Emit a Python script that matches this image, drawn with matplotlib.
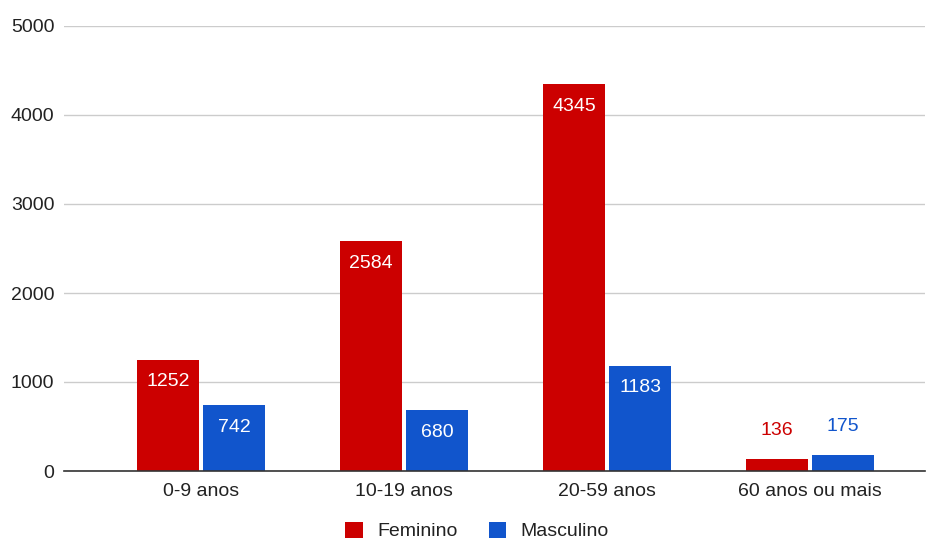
import matplotlib
matplotlib.use("Agg")
import matplotlib.pyplot as plt
import numpy as np

plt.rcParams['font.family'] = ['Liberation Sans', 'DejaVu Sans']

categories = ["0-9 anos", "10-19 anos", "20-59 anos", "60 anos ou mais"]
feminino = [1252, 2584, 4345, 136]
masculino = [742, 680, 1183, 175]
series_names = ["Feminino", "Masculino"]
colors = ["#CC0000", "#1155CC"]
yticks = [0, 1000, 2000, 3000, 4000, 5000]

FS = 14

fig = plt.figure(figsize=(9.36, 5.4), dpi=100)
ax = fig.add_axes([64/936, 1-471/540, (925-64)/936, (471-26)/540])

x = np.arange(len(categories))
w = 0.306
off = 0.163
for vals, sign, col, name in [(feminino, -1, colors[0], series_names[0]),
                              (masculino, 1, colors[1], series_names[1])]:
    bars = ax.bar(x + sign*off, vals, width=w, color=col, label=name, zorder=3)
    for b, v in zip(bars, vals):
        cx = b.get_x() + b.get_width()/2
        if v > 400:
            ax.annotate(str(v), (cx, v), xytext=(0, -16), textcoords="offset points",
                        ha="center", va="center", color="white", fontsize=FS, zorder=4)
        else:
            ax.annotate(str(v), (cx, v), xytext=(0, 20.5), textcoords="offset points",
                        ha="center", va="center", color=col, fontsize=FS, zorder=4)

ax.set_xlim(-0.675, 3.566)
ax.set_ylim(0, 5000)
ax.set_yticks(yticks)
ax.set_yticklabels([str(t) for t in yticks], fontsize=FS, color="#222222")
ax.set_xticks(x)
ax.set_xticklabels(categories, fontsize=FS, color="#222222")
ax.tick_params(axis="both", length=0)
ax.tick_params(axis="y", pad=7)
ax.tick_params(axis="x", pad=9)
ax.grid(axis="y", color="#CCCCCC", linewidth=1, zorder=0)
for s in ["top", "right", "left"]:
    ax.spines[s].set_visible(False)
ax.spines["bottom"].set_color("#333333")
ax.spines["bottom"].set_linewidth(1.2)
ax.spines["bottom"].set_zorder(5)

leg = fig.legend(loc="center", bbox_to_anchor=(477/936, 1-531/540), ncol=2, frameon=False,
                 fontsize=FS, handlelength=0.9, handleheight=0.9, columnspacing=1.6,
                 handletextpad=0.75)
for t in leg.get_texts():
    t.set_color("#222222")

fig.savefig("out.png", dpi=100)
